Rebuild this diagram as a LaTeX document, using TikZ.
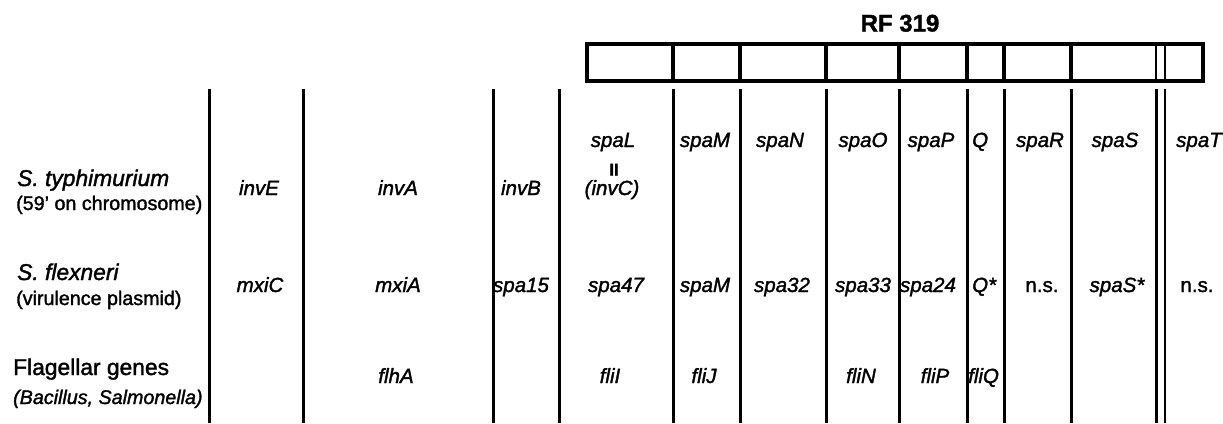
\documentclass[tikz,border=0pt]{standalone}
\usepackage{fontspec}
\setmainfont{Liberation Sans}[FakeBold=1.6]
\begin{document}
\begin{tikzpicture}[x=1pt,y=-1pt,
  gene/.style={font=\fontsize{20.5}{24}\selectfont\itshape, anchor=base, inner sep=0pt},
  geneL/.style={gene, anchor=base west},
  plain/.style={font=\fontsize{20.5}{24}\selectfont, anchor=base, inner sep=0pt},
  species/.style={font=\fontsize{22.8}{26}\selectfont\itshape, anchor=base west, inner sep=0pt},
  speciesup/.style={font=\fontsize{22.8}{26}\selectfont, anchor=base west, inner sep=0pt},
  sub/.style={font=\fontsize{19.7}{23}\selectfont, anchor=base west, inner sep=0pt},
  subit/.style={sub, font=\fontsize{19.7}{23}\selectfont\itshape},
  rule/.style={line width=3pt},
  thinrule/.style={line width=2.5pt},
  frame/.style={line width=4pt}]
\useasboundingbox (0,0) rectangle (1223,423);

% RF 319 region map
\node[font=\fontsize{24}{28}\selectfont\bfseries, anchor=base, inner sep=0pt] (rf) at (900,31.5) {RF 319};
\coordinate (bxa) at (587,43.5);
\coordinate (bxb) at (1203,80.5);
\draw[frame] (bxa) rectangle (bxb);
\foreach \x in {673,740,826,899,967,1004,1071}
  \draw[frame] (\x,43.5) -- (\x,80.5);
\foreach \x in {1156,1165}
  \draw[thinrule] (\x,43.5) -- (\x,80.5);

% column separators
\foreach \x [count=\i] in {209,303,493,559,673,740,826,899,967,1004,1071,1156} {
  \coordinate (t\i) at (\x,89);
  \coordinate (b\i) at (\x,423);
  \draw[rule] (t\i) -- (b\i);
}
\coordinate (t13) at (1165,89);
\coordinate (b13) at (1165,423);
\draw[thinrule] (t13) -- (b13);

% row labels
\node[species] (st) at (17,186) {S. typhimurium};
\node[sub] (stc) at (16,210) {(59{\char39} on chromosome)};
\node[species] (sf) at (17,280) {S. flexneri};
\node[sub] (sfp) at (16,305) {(virulence plasmid)};
\node[speciesup] (fg) at (13,375) {Flagellar genes};
\node[subit] (fgb) at (13,404) {(Bacillus, Salmonella)};

% S. typhimurium genes
\node[gene] (g1a) at (259,195) {invE};
\node[gene] (g1b) at (398,195) {invA};
\node[gene] (g1c) at (521,195) {invB};
\node[gene] (g1d) at (613,147) {spaL};
\node[plain, font=\fontsize{17}{19}\selectfont\bfseries] (g1eq) at (614,175.5) {II};
\node[gene] (g1dd) at (612,195) {(invC)};
\node[gene] (g1e) at (705,147) {spaM};
\node[gene] (g1f) at (780,147) {spaN};
\node[gene] (g1g) at (863,147) {spaO};
\node[gene] (g1h) at (931,147) {spaP};
\node[geneL] (g1i) at (972,147) {Q};
\node[gene] (g1j) at (1040,147) {spaR};
\node[gene] (g1k) at (1115,147) {spaS};
\node[gene] (g1l) at (1199,147) {spaT};

% S. flexneri genes
\node[gene] (g2a) at (260,292) {mxiC};
\node[gene] (g2b) at (398,292) {mxiA};
\node[gene] (g2c) at (521,292) {spa15};
\node[gene] (g2d) at (616,292) {spa47};
\node[gene] (g2e) at (705,292) {spaM};
\node[gene] (g2f) at (782,292) {spa32};
\node[gene] (g2g) at (863,292) {spa33};
\node[gene] (g2h) at (928,292) {spa24};
\node[geneL] (g2i) at (972,292) {Q*};
\node[plain] (g2j) at (1042,292) {n.s.};
\node[gene] (g2k) at (1117,292) {spaS*};
\node[plain] (g2l) at (1197,292) {n.s.};

% flagellar genes
\node[gene] (g3b) at (396,383) {flhA};
\node[gene] (g3d) at (610,383) {fliI};
\node[gene] (g3e) at (704,383) {fliJ};
\node[gene] (g3g) at (861,383) {fliN};
\node[gene] (g3h) at (935,383) {fliP};
\node[geneL] (g3i) at (968,383) {fliQ};
\end{tikzpicture}
\end{document}
